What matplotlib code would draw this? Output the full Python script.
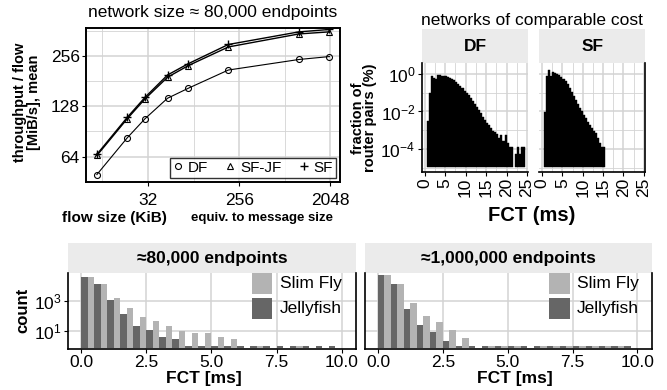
import matplotlib
matplotlib.use('Agg')
import matplotlib.pyplot as plt
from matplotlib.patches import Rectangle
from matplotlib.ticker import FixedLocator, NullFormatter

plt.rcParams['font.family'] = ['Liberation Sans', 'DejaVu Sans']
plt.rcParams['mathtext.default'] = 'regular'

W, H = 667, 390
GRID = '#d3d3d3'
STRIP = '#ebebeb'
LIGHT = '#b3b3b3'
DARK = '#666666'

# --- top left: mean throughput per flow vs flow size (KiB)
flow_kib = [10, 20, 30, 50, 80, 200, 1000, 2000]
tput_df = [50, 83, 108, 143, 164, 211, 244, 254]
tput_sfjf = [65, 108, 142, 191, 224, 290, 347, 357]
tput_sf = [66, 110, 145, 197, 230, 300, 357, 369]
flow_ticks = [32, 256, 2048]
tput_ticks = [64, 128, 256]

# --- top right: FCT histograms, fraction of router pairs (%), 0.5 ms bins
fct_bins_df = [0.5, 1.0, 1.5, 2.0, 2.5, 3.0, 3.5, 4.0, 4.5, 5.0, 5.5, 6.0, 6.5, 7.0,
               7.5, 8.0, 8.5, 9.0, 9.5, 10.0, 10.5, 11.0, 11.5, 12.0, 12.5, 13.0,
               13.5, 14.0, 14.5, 15.0, 15.5, 16.0, 16.5, 17.0, 17.5, 18.0, 18.5,
               19.0, 19.5, 20.0, 20.5, 21.0, 22.0, 22.5, 23.0, 23.5, 24.0]
frac_df = [3.2e-3, 1.0e-1, 7.9e-1, 6.3e-1, 5.6e-1, 8.5e-1, 8.3e-1, 8.1e-1, 7.9e-1,
           7.6e-1, 7.2e-1, 6.3e-1, 5.4e-1, 4.5e-1, 3.7e-1, 3.0e-1, 2.3e-1, 1.7e-1,
           1.3e-1, 9.5e-2, 7.4e-2, 5.2e-2, 3.5e-2, 2.4e-2, 1.7e-2, 1.2e-2, 7.9e-3,
           5.0e-3, 3.5e-3, 2.5e-3, 1.9e-3, 1.3e-3, 8.9e-4, 7.9e-4, 6.3e-4, 4.0e-4,
           5.6e-4, 2.8e-4, 5.6e-4, 2.0e-4, 1.26e-4, 1.26e-4, 5.4e-5, 1.26e-4,
           5.4e-5, 1.26e-4, 1.26e-4]
fct_bins_sf = [0.5, 1.0, 1.5, 2.0, 2.5, 3.0, 3.5, 4.0, 4.5, 5.0, 5.5, 6.0, 6.5, 7.0,
               7.5, 8.0, 8.5, 9.0, 9.5, 10.0, 10.5, 11.0, 11.5, 12.0, 12.5, 13.0,
               13.5, 14.0, 14.5, 15.0]
frac_sf = [9.1e-3, 7.8e-1, 1.6, 7.8e-1, 1.23, 1.17, 1.0, 8.9e-1, 7.1e-1, 5.6e-1,
           4.0e-1, 2.8e-1, 1.7e-1, 1.05e-1, 6.8e-2, 4.1e-2, 2.4e-2, 1.5e-2,
           1.0e-2, 6.5e-3, 4.4e-3, 2.9e-3, 1.9e-3, 1.26e-3, 9.1e-4, 6.9e-4,
           4.0e-4, 2.2e-4, 1.3e-4, 1.3e-4]
fct_ticks = [0, 5, 10, 15, 20, 25]

# --- bottom: FCT count histograms, 0.5 ms bins starting at 0
fct_bins = [0.0, 0.5, 1.0, 1.5, 2.0, 2.5, 3.0, 3.5, 4.0, 4.5,
            5.0, 5.5, 6.0, 6.5, 7.0, 7.5, 8.0, 8.5, 9.0, 9.5]
cnt_80k_sf = [40000, 12900, 1500, 325, 81, 44, 20, 9.5, 7, 7,
              4, 2.8, 0, 1, 0, 0, 1, 0, 0, 0]
cnt_80k_jf = [40000, 12900, 1100, 136, 20, 11, 3.8, 2.8, 1, 1,
              1, 1, 1, 1, 1, 1, 1, 1, 1, 1]
cnt_1m_sf = [51000, 12900, 700, 95, 38, 10.5, 3.3, 0, 1, 1,
             1, 0, 1, 1, 1, 1, 1, 1, 1, 0]
cnt_1m_jf = [51000, 12900, 277, 24, 8.6, 2.05, 1, 1, 1, 1,
             1, 1, 1, 1, 1, 1, 1, 1, 1, 1]
count_ticks = [10, 1000]
count_tick_labels = ['$10^{1}$', '$10^{3}$']
bottom_xticks = [0.0, 2.5, 5.0, 7.5, 10.0]

fig = plt.figure(figsize=(W / 100, H / 100), dpi=100)


def box(l, t, r, b):
    return [l / W, 1 - b / H, (r - l) / W, (b - t) / H]


def ftext(x, y, s, **kw):
    fig.text(x / W, 1 - y / H, s, **kw)


def strip(l, t, r, b, label, size):
    s = fig.add_axes(box(l, t, r, b))
    s.set_facecolor(STRIP)
    s.set_xticks([])
    s.set_yticks([])
    for sp in s.spines.values():
        sp.set_visible(False)
    s.text(0.5, 0.5, label, ha='center', va='center', fontsize=size,
           fontweight='bold', transform=s.transAxes)


# ---------------- top left
ax = fig.add_axes(box(86, 28.3, 340, 181.7))
ax.set_xscale('log', base=2)
ax.set_yscale('log', base=2)
ax.plot(flow_kib, tput_df, color='k', lw=0.8, marker='o', mfc='none', ms=4.3,
        mew=0.8, label='DF')
ax.plot(flow_kib, tput_sfjf, color='k', lw=1.0, marker='^', mfc='none', ms=5,
        mew=0.8, label='SF-JF')
ax.plot(flow_kib, tput_sf, color='k', lw=1.0, marker='+', ms=6, mew=1.0,
        label='SF')
ax.set_xlim(7.8, 2550)
ax.set_ylim(45.3, 375)
ax.xaxis.set_major_locator(FixedLocator(flow_ticks))
ax.set_xticklabels([str(t) for t in flow_ticks])
ax.xaxis.set_minor_locator(FixedLocator([11.3, 90.5, 724]))
ax.xaxis.set_minor_formatter(NullFormatter())
ax.yaxis.set_major_locator(FixedLocator(tput_ticks))
ax.set_yticklabels([str(t) for t in tput_ticks])
ax.yaxis.set_minor_locator(FixedLocator([90.5, 181, 362]))
ax.yaxis.set_minor_formatter(NullFormatter())
ax.grid(which='major', color=GRID, lw=1.1)
ax.grid(which='minor', color=GRID, lw=0.6)
ax.set_axisbelow(True)
ax.tick_params(which='minor', length=0)
ax.tick_params(which='major', length=3, width=0.8, labelsize=12.5, pad=1.5)
ax.tick_params(axis='x', pad=5)
for sp in ax.spines.values():
    sp.set_linewidth(1.4)
leg = ax.legend(loc='lower right', ncol=3, fontsize=11, frameon=True,
                fancybox=False, edgecolor='k', handlelength=0.7,
                handletextpad=0.3, columnspacing=1.1, borderpad=0.2,
                borderaxespad=0.25)
for h in leg.legend_handles:
    h.set_linestyle('none')
leg.get_frame().set_linewidth(1.0)

ftext(213, 12, 'network size \u2248 80,000 endpoints', ha='center', va='center',
      fontsize=12.5)
ftext(27, 102, 'throughput / flow\n[MiB/s], mean', ha='center', va='center',
      rotation=90, fontsize=10.5, fontweight='bold', linespacing=0.95)
ftext(114, 218, 'flow size (KiB)', ha='center', va='center', fontsize=11,
      fontweight='bold')
ftext(262, 218, 'equiv. to message size', ha='center', va='center',
      fontsize=9.5, fontweight='bold')

# ---------------- top right
ftext(532, 20, 'networks of comparable cost', ha='center', va='center',
      fontsize=12.5)
base = 1.15e-5
for (l, r, name, bins, vals) in [(421.7, 528.3, 'DF', fct_bins_df, frac_df),
                                 (539.3, 645.0, 'SF', fct_bins_sf, frac_sf)]:
    strip(l, 29.3, r, 63.3, name, 12.5)
    a = fig.add_axes(box(l, 63.3, r, 171.7))
    a.set_yscale('log')
    a.bar(bins, [v - base for v in vals], width=0.5, bottom=base, align='edge',
          color='k', edgecolor='k', lw=0.3)
    a.set_xlim(-0.7, 25.3)
    a.set_ylim(6.2e-6, 3.7)
    a.xaxis.set_major_locator(FixedLocator(fct_ticks))
    a.set_xticklabels([str(t) for t in fct_ticks], rotation=90)
    a.xaxis.set_minor_locator(FixedLocator([2.5, 7.5, 12.5, 17.5, 22.5]))
    a.xaxis.set_minor_formatter(NullFormatter())
    a.yaxis.set_major_locator(FixedLocator([1e0, 1e-2, 1e-4]))
    a.yaxis.set_minor_locator(FixedLocator([1e-1, 1e-3, 1e-5]))
    a.yaxis.set_minor_formatter(NullFormatter())
    a.grid(which='major', color=GRID, lw=1.1)
    a.grid(which='minor', color=GRID, lw=0.6)
    a.set_axisbelow(True)
    a.tick_params(which='minor', length=0)
    a.tick_params(which='major', length=3, width=0.8, labelsize=12.5, pad=1.5)
    a.spines['top'].set_visible(False)
    if name == 'DF':
        a.spines['right'].set_visible(False)
        a.set_yticklabels(['$10^{0}$', '$10^{-2}$', '$10^{-4}$'])
    else:
        a.spines['left'].set_visible(False)
        a.tick_params(axis='y', left=False, labelleft=False)
    for sp in a.spines.values():
        sp.set_linewidth(1.2)
ftext(364, 118, 'fraction of\nrouter pairs (%)', ha='center', va='center',
      rotation=90, fontsize=10.5, fontweight='bold', linespacing=0.8)
ftext(532, 215, 'FCT (ms)', ha='center', va='center', fontsize=14.5,
      fontweight='bold')

# ---------------- bottom
for (l, r, title, sf_c, jf_c, lab_x, leg_x) in [
        (68, 356, '\u224880,000 endpoints', cnt_80k_sf, cnt_80k_jf, 204, 251.7),
        (365, 651.7, '\u22481,000,000 endpoints', cnt_1m_sf, cnt_1m_jf, 515, 549)]:
    strip(l, 243.3, r, 272.7, title, 12.5)
    a = fig.add_axes(box(l, 272.7, r, 349))
    a.set_yscale('log')
    bb = 0.67
    xs = [x for x, c in zip(fct_bins, jf_c) if c > 0]
    hs = [c - bb for c in jf_c if c > 0]
    a.bar(xs, hs, width=0.25, bottom=bb, align='edge', color=DARK, lw=0)
    xs = [x + 0.25 for x, c in zip(fct_bins, sf_c) if c > 0]
    hs = [c - bb for c in sf_c if c > 0]
    a.bar(xs, hs, width=0.25, bottom=bb, align='edge', color=LIGHT, lw=0)
    a.set_xlim(-0.5, 10.55)
    a.set_ylim(0.6, 74000)
    a.xaxis.set_major_locator(FixedLocator(bottom_xticks))
    a.set_xticklabels(['%.1f' % t for t in bottom_xticks])
    a.yaxis.set_major_locator(FixedLocator(count_ticks))
    a.yaxis.set_minor_locator(FixedLocator([]))
    a.grid(which='major', color=GRID, lw=1.1)
    a.set_axisbelow(True)
    a.tick_params(which='major', length=3, width=0.8, labelsize=12.5, pad=1.5)
    a.spines['top'].set_visible(False)
    for sp in a.spines.values():
        sp.set_linewidth(1.2)
    if l < 100:
        a.set_yticklabels(count_tick_labels)
    else:
        a.tick_params(axis='y', left=False, labelleft=False)
    # legend keys
    for (ky, lab, col) in [(273.3, 'Slim Fly', LIGHT), (298.0, 'Jellyfish', DARK)]:
        fig.add_artist(Rectangle((leg_x / W, 1 - (ky + 20.7) / H), 20.5 / W,
                                 20.7 / H, transform=fig.transFigure,
                                 facecolor=col, edgecolor='none'))
        ftext(leg_x + 28, ky + 10.5, lab, ha='left', va='center', fontsize=12.5)
    ftext(lab_x, 378, 'FCT [ms]', ha='center', va='center', fontsize=12.5,
          fontweight='bold')

ftext(23, 310, 'count', ha='center', va='center', rotation=90, fontsize=12,
      fontweight='bold')

fig.savefig('out.png', dpi=100)
